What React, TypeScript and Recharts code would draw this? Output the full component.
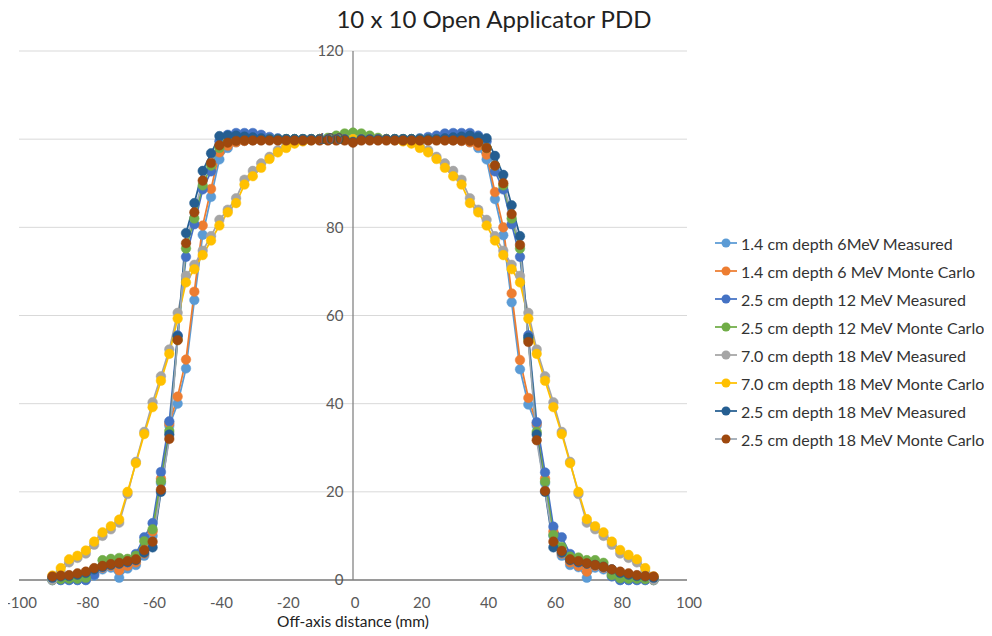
import { LineChart, Line, XAxis, YAxis, CartesianGrid, ReferenceLine } from 'recharts';

// off-axis positions (mm)
const xs = [
  -90, -87.5, -85, -82.5, -80, -77.5, -75, -72.5, -70, -67.5, -65, -62.5, -60, -57.5, -55, -52.5, -50, -47.5,
  -45, -42.5, -40, -37.5, -35, -32.5, -30, -27.5, -25, -22.5, -20, -17.5, -15, -12.5, -10, -7.5, -5, -2.5,
  0, 2.5, 5, 7.5, 10, 12.5, 15, 17.5, 20, 22.5, 25, 27.5, 30, 32.5, 35, 37.5, 40, 42.5, 45, 47.5,
  50, 52.5, 55, 57.5, 60, 62.5, 65, 67.5, 70, 72.5, 75, 77.5, 80, 82.5, 85, 87.5, 90,
];

const meas6 = [
  0, 0, 0, 0, 0, 1.0, 2.4, 2.8, 0.5, 2.6, 3.4, 5.5, 10, 22, 35, 40, 48, 63.5, 78.3, 86.9, 95.4, 98, 99.3, 99.6, 99.8,
  100, 100, 100, 100, 100, 100, 100, 100, 100, 100, 100, 99.6,
  100, 100, 100, 100, 100, 100, 100, 100, 100, 100, 100, 99.8, 99.6, 99.3, 98, 95.4, 86.4, 78.2, 63, 47.8, 39.8, 35,
  22, 10, 5.5, 3.4, 2.9, 0.5, 2.8, 2.4, 1.0, 0, 0, 0, 0, 0,
];

const mc6 = [
  0.3, 0.3, 0.5, 0.5, 0.5, 1.5, 2.8, 3.2, 2.2, 3.2, 4.0, 6.0, 11, 23, 35.5, 41.6, 50, 65.4, 80.4, 88.7, 97, 98.5, 99.3, 99.6, 99.8,
  100, 100, 100, 100, 100, 100, 100, 100, 100, 100, 100, 99.6,
  100, 100, 100, 100, 100, 100, 100, 100, 100, 100, 100, 99.8, 99.6, 99.3, 98.5, 96.5, 88, 80, 65, 49.9, 41.3, 35.5,
  23, 11, 6, 4, 3.2, 1.9, 3.2, 2.8, 1.5, 0.5, 0.5, 0.5, 0.3, 0.3,
];

const meas12 = [
  0, 0, 0, 0, 0, 1.2, 3, 3.6, 3.8, 4, 5.9, 9.7, 12.9, 24.5, 36, 55.5, 73.3, 80.7, 88.6, 92.7, 99.5, 101, 101.4, 101.4, 101.4,
  101, 100.5, 100.2, 100, 100, 100, 100, 100, 100, 100, 100, 99.8,
  100, 100, 100, 100, 100, 100, 100, 100.2, 100.5, 100.8, 101.3, 101.4, 101.4, 101.4, 100.8, 99.5, 92.7, 88.6, 80.7,
  73.3, 55.5, 35.8, 24.4, 12.1, 9.7, 5.9, 4, 3.8, 3.6, 3, 0.8, 0, 0, 0, 0, 0,
];

const mc12 = [
  0, 0.2, 0.3, 0.3, 0.5, 2.5, 4.5, 4.8, 5, 4.8, 5.5, 8.8, 11.5, 22.4, 33.8, 54.5, 75.2, 82, 89.5, 94, 98, 99.5, 99.8,
  100, 100, 100, 100, 100, 100, 100, 100, 100, 100, 100.3, 100.8, 101.3, 101.5,
  101.3, 100.8, 100.3, 100, 100, 100, 100, 100, 100, 100, 100, 100, 100, 99.8, 99.5, 98, 94, 89.5,
  82, 75.2, 54.5, 33.6, 22.3, 10.2, 7.5, 5.3, 5.1, 4.5, 4.5, 3.9, 1.1, 0.4, 0.3, 0.3, 0.2, 0,
];

const meas18deep = [
  0, 1.8, 4, 5, 6, 8, 10, 11.5, 13, 19.5, 26.8, 33.6, 40.3, 46.2, 52.3, 60.6, 69, 71.5, 74.7, 78,
  81.7, 84, 86.6, 90.8, 92.8, 94.5, 96, 97.5, 98.5, 99.2, 99.6, 99.8, 100, 100, 100, 100, 100,
  100, 100, 100, 100, 99.8, 99.6, 99.2, 98.5, 97.5, 96, 94.5, 92.8, 90.8, 86.6, 84, 81.7, 78, 74.7, 71.5, 69,
  60.6, 52.3, 46.2, 40.3, 33.6, 26.8, 19.5, 13, 11.5, 10, 8, 6, 5, 4, 1.8, 0,
];

const mc18deep = [
  1, 2.7, 4.7, 5.5, 6.7, 8.7, 10.8, 12.2, 13.7, 20, 26.5, 33.1, 39.2, 45.2, 51.3, 59.3, 67.5, 70.5, 73.7, 77,
  80.4, 83.4, 85.5, 89.7, 91.6, 93.5, 95.5, 97, 98, 99, 99.5, 99.8, 100, 100, 100, 100, 100,
  100, 100, 100, 100, 99.8, 99.5, 99, 98, 97, 95.5, 93.5, 91.6, 89.7, 85.5, 83.4, 80.4, 77, 73.7, 70.5, 67.5,
  59.3, 51.3, 45.2, 39.2, 33.1, 26.5, 20, 13.8, 12.2, 10.8, 8.7, 6.8, 5.7, 4.7, 2.7, 0.8,
];

const meas18 = [
  0.5, 0.8, 0.9, 1.2, 1.6, 2.4, 3, 3.4, 3.7, 4.1, 4.5, 6.2, 7.4, 20, 33, 55.3, 78.7, 85.5, 92.8, 96.8,
  100.7, 100.8, 100.8, 100.6, 100.4, 100.2, 100, 100, 100, 100, 100, 100, 100, 100, 100, 100, 99.4,
  100, 100, 100, 100, 100, 100, 100, 100, 100, 100, 100.2, 100.4, 100.6, 100.8, 100.5, 100.2, 96.2, 91.9, 85, 78,
  55, 33, 20, 7.4, 6.2, 4.5, 4.1, 3.7, 3.4, 3, 2.4, 1.6, 1.2, 0.9, 0.8, 0.5,
];

const mc18 = [
  0.8, 1.0, 1.1, 1.5, 1.9, 2.7, 3.2, 3.6, 3.9, 4.3, 4.7, 6.8, 8.7, 20.5, 32, 54.4, 76.4, 83.4, 90.6, 94.6,
  98.6, 99.2, 99.6, 99.7, 99.7, 99.7, 99.7, 99.7, 99.7, 99.7, 99.7, 99.7, 99.7, 99.7, 99.7, 99.7, 99.2,
  99.7, 99.7, 99.7, 99.7, 99.7, 99.7, 99.7, 99.7, 99.7, 99.7, 99.7, 99.7, 99.7, 99.6, 99.2, 98, 94, 90, 83, 76,
  54, 31.7, 20.2, 8.7, 6.6, 4.7, 4.3, 3.8, 3.4, 3, 2.4, 1.9, 1.5, 1.1, 0.9, 0.8,
];

const yTicks = [0, 20, 40, 60, 80, 100, 120];
const xTicks = [-100, -80, -60, -40, -20, 0, 20, 40, 60, 80, 100];

const series = [
  { key: 'meas6', name: '1.4 cm depth 6MeV Measured', color: '#5B9BD5', line: '#5B9BD5', values: meas6 },
  { key: 'mc6', name: '1.4 cm depth 6 MeV Monte Carlo', color: '#ED7D31', line: '#ED7D31', values: mc6 },
  { key: 'meas12', name: '2.5 cm depth 12 MeV Measured', color: '#4472C4', line: '#4472C4', values: meas12 },
  { key: 'mc12', name: '2.5 cm depth 12 MeV Monte Carlo', color: '#70AD47', line: '#70AD47', values: mc12 },
  { key: 'meas18deep', name: '7.0 cm depth 18 MeV Measured', color: '#A5A5A5', line: '#A5A5A5', values: meas18deep },
  { key: 'mc18deep', name: '7.0 cm depth 18 MeV Monte Carlo', color: '#FFC000', line: '#FFC000', values: mc18deep },
  { key: 'meas18', name: '2.5 cm depth 18 MeV Measured', color: '#255E91', line: '#255E91', values: meas18 },
  { key: 'mc18', name: '2.5 cm depth 18 MeV Monte Carlo', color: '#9E480E', line: '#9DA8B4', values: mc18 },
];

const rows = xs.map((x, i) => {
  const row: Record<string, number> = { x };
  series.forEach((s) => { row[s.key] = s.values[i]; });
  return row;
});

// the wrapper is pulled left over the body margin, so x here = page x
const W = 992;
const H = 628;
const margin = { top: 43, right: 305, bottom: 26, left: 18 };
const plotMid = margin.left + (W - margin.left - margin.right) / 2;
const font = 'Lato, "Open Sans", sans-serif';

// y tick labels sit next to the vertical axis at x = 0
const renderYTick = (props: any) => (
  <text key={props.index} x={plotMid - 9} y={props.y} dy="0.35em" textAnchor="end" fontSize={15} fill="#595959" fontFamily={font}>
    {props.payload.value}
  </text>
);

const renderXTick = (props: any) => (
  <text key={props.index} x={props.x + 2} y={props.y + 9} dy="0.71em" textAnchor="middle" fontSize={15} fill="#595959" fontFamily={font}>
    {props.payload.value < 0 ? `-${Math.abs(props.payload.value)}` : props.payload.value}
  </text>
);

export default function App() {
  return (
    <div style={{ position: 'relative', width: W, height: H, marginLeft: -8, fontFamily: font, background: '#fff' }}>
      <div style={{ position: 'absolute', top: -4, left: 336, width: 316, textAlign: 'center', fontSize: 24, color: '#222', whiteSpace: 'nowrap' }}>
        10 x 10 Open Applicator PDD
      </div>
      <LineChart width={W} height={H} data={rows} margin={margin}>
        <CartesianGrid vertical={false} stroke="#D9D9D9" strokeWidth={1} />
        <XAxis
          dataKey="x"
          type="number"
          domain={[-100, 100]}
          ticks={xTicks}
          interval={0}
          tickLine={false}
          axisLine={{ stroke: '#7F7F7F', strokeWidth: 1.5 }}
          tick={renderXTick}
          height={30}
        />
        <YAxis
          type="number"
          domain={[0, 120]}
          ticks={yTicks}
          interval={0}
          width={1}
          axisLine={false}
          tickLine={false}
          tick={renderYTick}
        />
        <ReferenceLine x={0} stroke="#7F7F7F" strokeWidth={1.25} />
        {series.map((s) => (
          <Line
            key={s.key}
            dataKey={s.key}
            name={s.name}
            type="linear"
            stroke={s.line}
            strokeWidth={1.75}
            dot={{ r: 4.8, fill: s.color, stroke: s.color, strokeWidth: 0.5 }}
            isAnimationActive={false}
          />
        ))}
      </LineChart>
      <div style={{ position: 'absolute', top: 604, left: 233, width: 240, textAlign: 'center', fontSize: 15.5, color: '#222' }}>
        Off-axis distance (mm)
      </div>
      <div style={{ position: 'absolute', left: 714, top: 221, width: 278 }}>
        {series.map((s) => (
          <div key={s.key} style={{ display: 'flex', alignItems: 'center', height: 28, fontSize: 16, color: '#333', whiteSpace: 'nowrap' }}>
            <svg width={24} height={12} style={{ marginRight: 3, flexShrink: 0 }}>
              <line x1={1} y1={6} x2={23} y2={6} stroke={s.line} strokeWidth={1.75} />
              <circle cx={12} cy={6} r={4.5} fill={s.color} />
            </svg>
            {s.name}
          </div>
        ))}
      </div>
    </div>
  );
}
